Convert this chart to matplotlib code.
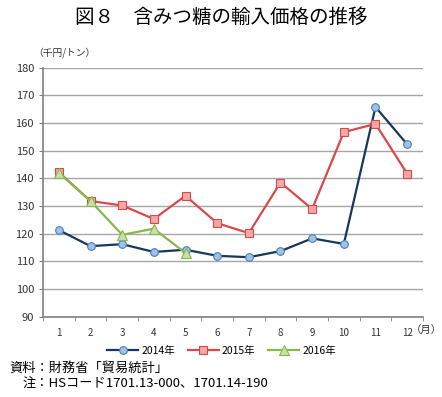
import numpy as np
import matplotlib.pyplot as plt
from matplotlib.ticker import FixedLocator

plt.rcParams['font.family'] = ['Noto Sans CJK JP', 'DejaVu Sans']

months = list(range(1, 13))
y2014 = [121.3, 115.5, 116.2, 113.4, 114.2, 112.0, 111.5, 113.7, 118.3, 116.3, 165.8, 152.3]
y2015 = [142.2, 131.8, 130.2, 125.3, 133.7, 123.8, 120.2, 138.5, 128.9, 156.7, 159.7, 141.7]
y2016 = [142.0, 131.8, 119.6, 121.8, 113.0]

fig = plt.figure(figsize=(4.42, 3.97), dpi=100)
ax = fig.add_axes([0.0973, 0.2023, 0.8597, 0.6272])

ax.plot(months, y2014, color='#17375E', lw=1.6, marker='o', ms=5.5,
        mfc='#9DC3E6', mec='#4A7EBB', mew=0.8, label='2014年', zorder=3)
ax.plot(months, y2015, color='#D9494B', lw=1.6, marker='s', ms=5.5,
        mfc='#F4A7A7', mec='#D9494B', mew=0.8, label='2015年', zorder=3)
ax.plot(months[:len(y2016)], y2016, color='#86B84C', lw=1.6, marker='^', ms=6.5,
        mfc='#C6E0A8', mec='#86B84C', mew=0.8, label='2016年', zorder=4)

ax.set_xlim(0.5, 12.5)
ax.set_ylim(90, 180)
ax.set_yticks(np.arange(90, 181, 10))
ax.set_xticks(months)
ax.xaxis.set_minor_locator(FixedLocator(np.arange(0.5, 12.6, 1)))
ax.tick_params(axis='x', which='major', length=0, labelsize=7, pad=8, colors='#333333')
ax.tick_params(axis='x', which='minor', length=3, color='#808080', direction='out')
ax.tick_params(axis='y', length=3, color='#808080', labelsize=8, colors='#333333')
ax.grid(axis='y', color='#A6A6A6', lw=1)
ax.set_axisbelow(True)
for s in ['top', 'right']:
    ax.spines[s].set_visible(False)
for s in ['left', 'bottom']:
    ax.spines[s].set_color('#808080')
    ax.spines[s].set_linewidth(1.2)

fig.text(0.5, 0.955, '図８　含みつ糖の輸入価格の推移', ha='center', va='center', fontsize=14)
fig.text(0.075, 0.868, '（千円/トン）', ha='left', va='center', fontsize=7, color='#333333')
fig.text(0.965, 0.170, '（月）', ha='center', va='center', fontsize=7.5, color='#333333')

ax.legend(loc='upper center', bbox_to_anchor=(0.47, -0.08), ncol=3, frameon=False,
          fontsize=7.5, handlelength=3, columnspacing=1.2, handletextpad=0.3)

fig.text(0.022, 0.073, '資料：財務省「貿易統計」', ha='left', va='center', fontsize=9.5)
fig.text(0.052, 0.032, '注：HSコード1701.13-000、1701.14-190', ha='left', va='center', fontsize=9.5)

fig.savefig('out.png', dpi=100)
